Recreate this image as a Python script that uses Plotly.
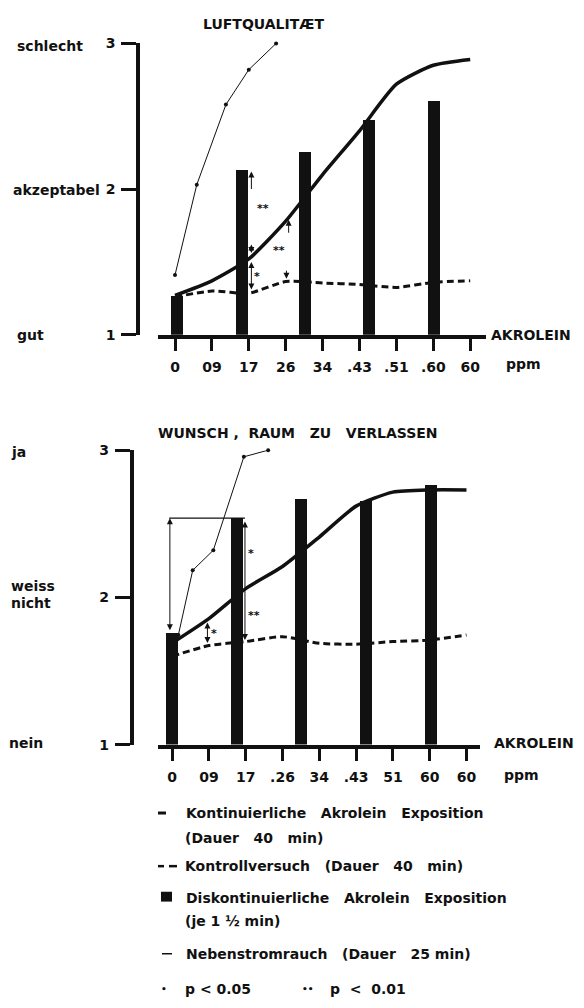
import plotly.graph_objects as go

W, H = 584, 1008

# ---------------- data ----------------
tick_idx = [0, 1, 2, 3, 4, 5, 6, 7, 8]
ticktext_top = ["0", "09", "17", "26", "34", ".43", ".51", ".60", "60"]
ticktext_bot = ["0", "09", "17", ".26", "34", ".43", "51", "60", "60"]

# Panel 1: Luftqualitaet
cont_top = [1.27, 1.37, 1.52, 1.78, 2.10, 2.40, 2.72, 2.85, 2.89]
ctrl_top = [1.26, 1.30, 1.285, 1.365, 1.355, 1.345, 1.325, 1.36, 1.37]
bar_x_top = [0.03, 1.80, 3.52, 5.25, 7.0]
bar_y_top = [1.26, 2.13, 2.25, 2.47, 2.60]
smoke_x_top = [0.0, 0.59, 1.38, 2.0, 2.74]
smoke_y_top = [1.41, 2.03, 2.58, 2.82, 3.0]

# Panel 2: Wunsch, Raum zu verlassen
cont_bot = [1.69, 1.856, 2.06, 2.21, 2.41, 2.62, 2.715, 2.73, 2.73]
ctrl_bot = [1.60, 1.673, 1.70, 1.733, 1.688, 1.682, 1.70, 1.71, 1.745]
bar_x_bot = [0.0, 1.76, 3.51, 5.27, 7.04]
bar_y_bot = [1.76, 2.54, 2.67, 2.655, 2.76]
smoke_x_bot = [0.17, 0.56, 1.12, 1.95, 2.61]
smoke_y_bot = [1.745, 2.184, 2.32, 2.955, 3.0]

# significance arrows: (x, y_from, y_to, both_heads)
arrows_top = [(2.07, 1.99, 2.12, False), (2.07, 1.55, 1.62, True),
              (2.07, 1.30, 1.50, True), (3.08, 1.69, 1.79, False),
              (3.02, 1.45, 1.385, False)]
stars_top = [(2.38, 1.87, "**"), (2.21, 1.40, "*"), (2.82, 1.58, "**")]
arrows_bot = [(-0.06, 1.767, 2.538, True), (1.98, 1.70, 2.515, True),
              (0.96, 1.68, 1.83, True)]
bracket_bot_x = [-0.08, 1.98]
bracket_bot_y = [2.538, 2.538]
stars_bot = [(-0.42, 2.18, "**"), (2.14, 2.30, "*"), (2.23, 1.88, "**"),
             (1.14, 1.755, "*")]

FONT = "DejaVu Sans"
BLACK = "#111111"


def px(xp):
    return xp / W


def py(yp):
    return 1 - yp / H


fig = go.Figure()


def add_panel(xa, ya, cont, ctrl, bx, by, sx, sy):
    fig.add_trace(go.Bar(x=bx, y=by, width=0.33, marker=dict(color=BLACK, line=dict(width=0)),
                         xaxis=xa, yaxis=ya, showlegend=False))
    fig.add_trace(go.Scatter(x=tick_idx, y=ctrl, mode="lines",
                             line=dict(color=BLACK, width=3, dash="7px,4px", shape="spline", smoothing=0.6),
                             xaxis=xa, yaxis=ya, showlegend=False))
    fig.add_trace(go.Scatter(x=tick_idx, y=cont, mode="lines",
                             line=dict(color=BLACK, width=3.5, shape="spline", smoothing=0.6),
                             xaxis=xa, yaxis=ya, showlegend=False))
    fig.add_trace(go.Scatter(x=sx, y=sy, mode="lines+markers",
                             line=dict(color=BLACK, width=1),
                             marker=dict(color=BLACK, size=4),
                             xaxis=xa, yaxis=ya, showlegend=False, cliponaxis=False))


add_panel("x", "y", cont_top, ctrl_top, bar_x_top, bar_y_top, smoke_x_top, smoke_y_top)
add_panel("x2", "y2", cont_bot, ctrl_bot, bar_x_bot, bar_y_bot, smoke_x_bot, smoke_y_bot)
fig.add_trace(go.Scatter(x=bracket_bot_x, y=bracket_bot_y, mode="lines",
                         line=dict(color=BLACK, width=1.2), xaxis="x2", yaxis="y2",
                         showlegend=False))

tickfont = dict(family=FONT, size=14, color=BLACK, weight="bold")


def xaxis_cfg(ticktext, dom_l, dom_r, idx0, step, anchor):
    return dict(domain=[px(dom_l), px(dom_r)],
                range=[(dom_l - idx0) / step, (dom_r - idx0) / step],
                tickvals=tick_idx, ticktext=ticktext, ticks="outside", ticklen=13,
                tickwidth=2.5, tickcolor=BLACK, showline=True, linewidth=3.5,
                linecolor=BLACK, showgrid=False, zeroline=False, anchor=anchor,
                tickfont=tickfont, ticklabelstandoff=4, fixedrange=True)


def yaxis_cfg(top_px, bot_px, axis_px):
    return dict(domain=[py(bot_px), py(top_px)], range=[1, 3], tickvals=[1, 2, 3],
                ticks="outside", ticklen=15, tickwidth=2.5, tickcolor=BLACK,
                showline=True, linewidth=3.5, linecolor=BLACK, showgrid=False,
                zeroline=False, anchor="free", position=px(axis_px),
                tickfont=tickfont, ticklabelstandoff=3, fixedrange=True)


fig.update_layout(
    width=W, height=H, margin=dict(l=0, r=0, t=0, b=0),
    paper_bgcolor="white", plot_bgcolor="rgba(0,0,0,0)",
    showlegend=False, bargap=0,
    xaxis=xaxis_cfg(ticktext_top, 157.5, 486, 175.0, 36.9, "y"),
    yaxis=yaxis_cfg(36, 332, 138),
    xaxis2=xaxis_cfg(ticktext_bot, 158.3, 480.4, 172.1, 36.8, "y2"),
    yaxis2=yaxis_cfg(449.3, 748.5, 131.5),
)

anns = []


def text(t, xp, yp, anchor="left", size=14):
    anns.append(dict(text=t, x=px(xp), y=py(yp), xref="paper", yref="paper",
                     xanchor=anchor, yanchor="middle", showarrow=False,
                     font=dict(family=FONT, size=size, color=BLACK, weight="bold")))


NB = "\u00a0"

# titles
text("LUFTQUALIT\u00c6T", 263.5, 16, "center", 14)
text("WUNSCH" + NB + "," + NB * 2 + "RAUM" + NB * 3 + "ZU" + NB * 3 + "VERLASSEN", 298, 432, "center", 14)

# y category labels
text("schlecht", 15, 39)
text("akzeptabel", 11, 185)
text("gut", 15, 332)
text("ja", 9, 451)
text("weiss", 9, 587)
text("nicht", 9, 605)
text("nein", 7, 747)

# x axis labels
text("AKROLEIN", 489, 332)
text("ppm", 504, 362)
text("AKROLEIN", 492, 747)
text("ppm", 502, 779)

# legend texts
S3 = NB * 3
text("Kontinuierliche" + S3 + "Akrolein" + S3 + "Exposition", 184, 818)
text("(Dauer" + S3 + "40" + S3 + "min)", 183, 843)
text("Kontrollversuch" + S3 + "(Dauer" + S3 + "40" + S3 + "min)", 183, 872)
text("Diskontinuierliche" + S3 + "Akrolein" + S3 + "Exposition", 184, 904)
text("(je 1 \u00bd min)", 183, 928)
text("Nebenstromrauch" + S3 + "(Dauer" + S3 + "25 min)", 184, 961)
text("p < 0.05", 183, 997)
text("p" + NB * 2 + "<" + NB * 2 + "0.01", 328, 997)
text("\u2022", 164, 997, "center", 9)
text("\u2022\u2022", 308, 997, "center", 9)


def arrow(xa, ya, x, y0, y1, both):
    anns.append(dict(x=x, y=y1, ax=x, ay=y0, xref=xa, yref=ya, axref=xa, ayref=ya,
                     text="", showarrow=True, arrowhead=2, arrowsize=1.2, arrowwidth=1,
                     arrowcolor=BLACK, arrowside="end+start" if both else "end",
                     standoff=0, startstandoff=0))


def star(xa, ya, x, y, t):
    anns.append(dict(x=x, y=y, xref=xa, yref=ya, text=t, showarrow=False,
                     font=dict(family=FONT, size=11, color=BLACK, weight="bold")))


for a in arrows_top:
    arrow("x", "y", *a)
for s in stars_top:
    star("x", "y", *s)
for a in arrows_bot:
    arrow("x2", "y2", *a)
for s in stars_bot:
    star("x2", "y2", *s)

fig.update_layout(annotations=anns)

# legend glyphs
shapes = [
    dict(type="line", xref="paper", yref="paper", x0=px(158), x1=px(166), y0=py(818), y1=py(818),
         line=dict(color=BLACK, width=3)),
    dict(type="line", xref="paper", yref="paper", x0=px(158), x1=px(164), y0=py(872), y1=py(872),
         line=dict(color=BLACK, width=2.5)),
    dict(type="line", xref="paper", yref="paper", x0=px(169), x1=px(177), y0=py(872), y1=py(872),
         line=dict(color=BLACK, width=2.5)),
    dict(type="rect", xref="paper", yref="paper", x0=px(161), x1=px(172), y0=py(908), y1=py(898),
         fillcolor=BLACK, line=dict(width=0)),
    dict(type="line", xref="paper", yref="paper", x0=px(162), x1=px(172), y0=py(961), y1=py(961),
         line=dict(color=BLACK, width=1.5)),
]
fig.update_layout(shapes=shapes)

fig.write_html("out.html")
